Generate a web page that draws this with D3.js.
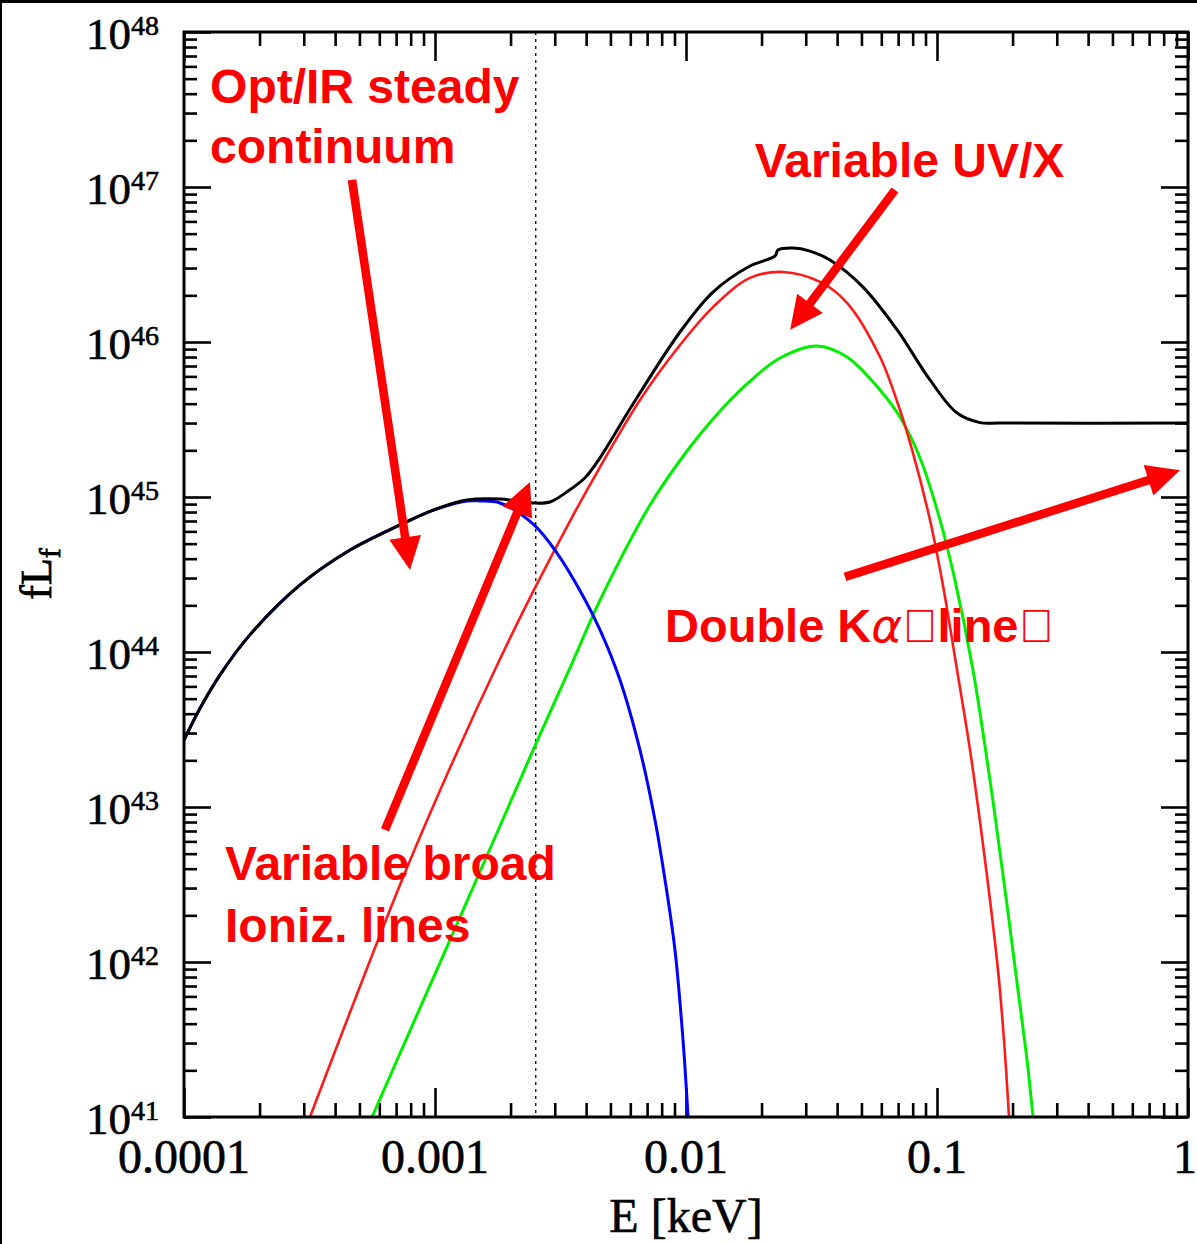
<!DOCTYPE html>
<html><head><meta charset="utf-8">
<script src="https://cdn.jsdelivr.net/npm/d3@7/dist/d3.min.js"></script>
<style>html,body{margin:0;padding:0;background:#fff;} svg{display:block}</style>
</head><body>
<svg id="c" width="1197" height="1244"></svg>
<script>
// ---- axis ticks ----
const xTickValues = [1e-4, 1e-3, 1e-2, 1e-1, 1];
const xTickLabels = ["0.0001", "0.001", "0.01", "0.1", "1"];
const yTickExponents = [41, 42, 43, 44, 45, 46, 47, 48];
const xAxisTitle = "E [keV]";

// ---- series (E in keV, fL_f) ----
const totalE = [1.00e-4, 1.16e-4, 1.39e-4, 1.83e-4, 2.90e-4, 4.59e-4, 7.25e-4, 9.82e-4, 1.341e-3, 1.815e-3, 2.457e-3, 2.872e-3, 3.357e-3, 3.959e-3, 4.544e-3, 6.149e-3, 9.465e-3, 1.281e-2, 1.799e-2, 2.263e-2, 2.325e-2, 2.669e-2, 3.119e-2, 3.748e-2, 5.074e-2, 6.929e-2, 9.378e-2, 0.1202, 0.1484, 0.1782, 1.0];
const totalL = [2.70e43, 4.35e43, 7.1e43, 1.29e44, 2.71e44, 4.55e44, 6.60e44, 8.24e44, 9.57e44, 9.71e44, 9.15e44, 9.29e44, 1.08e45, 1.33e45, 1.79e45, 3.98e45, 1.16e46, 2.10e46, 3.09e46, 3.59e46, 3.92e46, 4.04e46, 3.86e46, 3.38e46, 2.26e46, 1.20e46, 5.69e45, 3.48e45, 3.02e45, 3.0e45, 3.0e45];

const diskE = [1.00e-4, 1.16e-4, 1.39e-4, 1.83e-4, 2.90e-4, 4.59e-4, 7.25e-4, 9.82e-4, 1.341e-3, 1.511e-3, 1.815e-3, 2.457e-3, 3.062e-3, 3.887e-3, 4.544e-3, 5.458e-3, 6.557e-3, 7.524e-3, 8.25e-3, 9.04e-3, 9.73e-3, 1.019e-2];
const diskL = [2.70e43, 4.35e43, 7.1e43, 1.29e44, 2.71e44, 4.55e44, 6.60e44, 8.20e44, 9.42e44, 9.42e44, 9.15e44, 6.70e44, 4.35e44, 2.30e44, 1.39e44, 6.60e43, 2.33e43, 8.24e42, 3.38e42, 1.19e42, 3.14e41, 1.0e41];

const uvE = [3.177e-4, 7.25e-4, 1.148e-3, 1.815e-3, 2.502e-3, 3.45e-3, 4.544e-3, 6.557e-3, 9.465e-3, 1.281e-2, 1.799e-2, 2.435e-2, 3.419e-2, 4.379e-2, 5.93e-2, 7.12e-2, 8.025e-2, 9.378e-2, 0.1047, 0.1202, 0.1354, 0.1553, 0.175, 0.1849, 0.1936];
const uvL = [1.0e41, 3.14e42, 1.79e43, 9.01e43, 2.59e44, 7.00e44, 1.56e45, 4.23e45, 9.56e45, 1.68e46, 2.59e46, 2.83e46, 2.44e46, 1.79e46, 8.0e45, 3.64e45, 1.92e45, 7.11e44, 2.91e44, 7.65e43, 2.33e43, 4.55e42, 8.88e41, 3.14e41, 1.0e41];

const softE = [5.61e-4, 1.148e-3, 1.815e-3, 2.502e-3, 3.45e-3, 4.544e-3, 7.19e-3, 1.009e-2, 1.281e-2, 1.75e-2, 2.369e-2, 3.326e-2, 4.379e-2, 5.93e-2, 7.12e-2, 8.55e-2, 0.1028, 0.1179, 0.1391, 0.1626, 0.1866, 0.2102, 0.2284, 0.2413];
const softL = [1.0e41, 1.39e42, 7.54e42, 2.48e43, 7.89e43, 2.16e44, 8.88e44, 1.98e45, 3.19e45, 5.36e45, 7.88e45, 9.42e45, 8.0e45, 4.90e45, 3.28e45, 1.79e45, 7.11e44, 2.91e44, 7.65e43, 1.49e43, 2.92e42, 6.6e41, 2.33e41, 1.0e41];

const dashedE = 2.52e-3;

// ---- annotations (data coords) ----
const labelTexts = ["Opt/IR steady", "continuum", "Variable UV/X", "Variable broad", "Ioniz. lines"];
const labelE = [1.27e-4, 1.27e-4, 1.88e-2, 1.457e-4, 1.457e-4];
const labelL = [3.48e47, 1.43e47, 1.16e47, 3.38e42, 1.35e42];
const kaLabel = {E: 8.25e-3, L: 1.16e44};
const arrowTailE = [4.67e-4, 6.32e-4, 6.80e-2, 4.30e-2];
const arrowTailL = [1.11e47, 7.11e42, 9.57e46, 3.05e44];
const arrowTipE = [7.95e-4, 2.39e-3, 2.60e-2, 0.929];
const arrowTipL = [3.38e44, 1.25e45, 1.20e46, 1.49e45];

// ---- layout ----
const svg = d3.select("#c");
const L0 = 184, R0 = 1188, T0 = 32, B0 = 1117;
const x = d3.scaleLog().domain([1e-4, 1]).range([L0, R0]);
const y = d3.scaleLog().domain([1e41, 1e48]).range([B0, T0]);

svg.append("rect").attr("width", 1197).attr("height", 1244).attr("fill", "#fff");
svg.append("rect").attr("x", 0).attr("y", 0).attr("width", 1197).attr("height", 3).attr("fill", "#000");
svg.append("rect").attr("x", 0).attr("y", 0).attr("width", 2).attr("height", 1244).attr("fill", "#000");

svg.append("clipPath").attr("id", "clip").append("rect")
  .attr("x", L0).attr("y", T0).attr("width", R0 - L0).attr("height", B0 - T0);

// minor tick positions
const xMinor = [], yMinor = [];
for (let k = -4; k < 0; k++) for (let m = 2; m <= 9; m++) xMinor.push(m * Math.pow(10, k));
for (let k = 41; k < 48; k++) for (let m = 2; m <= 9; m++) yMinor.push(m * Math.pow(10, k));
const yMajor = yTickExponents.map(e => Math.pow(10, e));

function addAxis(axis, tx, ty) {
  const g = svg.append("g").attr("transform", `translate(${tx},${ty})`).call(axis);
  g.select(".domain").remove();
  g.selectAll("text").remove();
  g.selectAll("line").attr("stroke", "#000").attr("stroke-width", 2.6);
}
addAxis(d3.axisBottom(x).tickValues(xMinor).tickSize(-14), 0, B0);
addAxis(d3.axisBottom(x).tickValues(xTickValues).tickSize(-29), 0, B0);
addAxis(d3.axisTop(x).tickValues(xMinor).tickSize(-14), 0, T0);
addAxis(d3.axisTop(x).tickValues(xTickValues).tickSize(-29), 0, T0);
addAxis(d3.axisLeft(y).tickValues(yMinor).tickSize(-13), L0, 0);
addAxis(d3.axisLeft(y).tickValues(yMajor).tickSize(-27), L0, 0);
addAxis(d3.axisRight(y).tickValues(yMinor).tickSize(-13), R0, 0);
addAxis(d3.axisRight(y).tickValues(yMajor).tickSize(-27), R0, 0);

// dashed line
svg.append("line").attr("x1", x(dashedE)).attr("x2", x(dashedE))
  .attr("y1", T0).attr("y2", B0).attr("stroke", "#000").attr("stroke-width", 1.3)
  .attr("stroke-dasharray", "3,4");

// curves
const line = d3.line().x(d => x(d[0])).y(d => y(d[1])).curve(d3.curveCatmullRom.alpha(0.5));
const zipS = (a, b) => a.map((v, i) => [v, b[i]]);
const plot = svg.append("g").attr("clip-path", "url(#clip)");
plot.append("path").datum(zipS(softE, softL)).attr("d", line).attr("fill", "none").attr("stroke", "#00ee00").attr("stroke-width", 3);
plot.append("path").datum(zipS(uvE, uvL)).attr("d", line).attr("fill", "none").attr("stroke", "#ff1a1a").attr("stroke-width", 2.6);
plot.append("path").datum(zipS(diskE, diskL)).attr("d", line).attr("fill", "none").attr("stroke", "#0000ff").attr("stroke-width", 3);
plot.append("path").datum(zipS(totalE, totalL)).attr("d", line).attr("fill", "none").attr("stroke", "#000").attr("stroke-width", 3);

// frame
svg.append("rect").attr("x", L0).attr("y", T0).attr("width", R0 - L0).attr("height", B0 - T0)
  .attr("fill", "none").attr("stroke", "#000").attr("stroke-width", 3);

// tick labels
const serif = "'Liberation Serif', 'DejaVu Serif', serif";
xTickValues.forEach((v, i) => {
  const last = i === xTickValues.length - 1;
  svg.append("text").attr("x", last ? 1197 : x(v)).attr("y", 1173)
    .attr("text-anchor", last ? "end" : "middle")
    .attr("font-family", serif).attr("font-size", 48).attr("fill", "#000")
    .attr("stroke", "#000").attr("stroke-width", 0.6).text(xTickLabels[i]);
});
yTickExponents.forEach(e => {
  const t = svg.append("text").attr("x", 159).attr("y", y(Math.pow(10, e)) + 16.5)
    .attr("text-anchor", "end").attr("font-family", serif).attr("fill", "#000")
    .attr("stroke", "#000").attr("stroke-width", 0.6);
  t.append("tspan").attr("font-size", 45).text("10");
  t.append("tspan").attr("font-size", 28).attr("dy", -14).text(String(e));
});

// axis titles
svg.append("text").attr("x", 686).attr("y", 1232).attr("text-anchor", "middle")
  .attr("font-family", serif).attr("font-size", 48).attr("fill", "#000")
  .attr("stroke", "#000").attr("stroke-width", 0.6).text(xAxisTitle);
const yt = svg.append("text").attr("transform", "translate(51,574) rotate(-90)")
  .attr("text-anchor", "middle").attr("font-family", serif).attr("font-size", 44).attr("fill", "#000")
  .attr("stroke", "#000").attr("stroke-width", 0.8);
yt.append("tspan").text("fL");
yt.append("tspan").attr("font-size", 30).attr("dy", 9).text("f");

// annotations
const sans = "'Liberation Sans', Arial, sans-serif";
const red = "#ff0000";
labelTexts.forEach((s, i) => {
  svg.append("text").attr("x", x(labelE[i])).attr("y", y(labelL[i]))
    .attr("font-family", sans).attr("font-weight", "bold").attr("font-size", 48)
    .attr("fill", red).text(s);
});
const ka = svg.append("text").attr("x", x(kaLabel.E)).attr("y", y(kaLabel.L))
  .attr("font-family", sans).attr("font-weight", "bold").attr("font-size", 47).attr("fill", red);
ka.append("tspan").text("Double K");
ka.append("tspan").attr("font-family", "'DejaVu Sans', sans-serif").attr("font-style", "italic").attr("font-weight", "normal").text("α");
ka.append("tspan").text("\uE000line\uE000");

function arrow(x1, y1, x2, y2) {
  const dx = x2 - x1, dy = y2 - y1, len = Math.hypot(dx, dy);
  const ux = dx / len, uy = dy / len, px = -uy, py = ux;
  const hl = 33, hw = 16, sw = 4.3;
  const bx = x2 - ux * hl, by = y2 - uy * hl;
  const pts = [
    [x1 + px * sw, y1 + py * sw], [bx + px * sw, by + py * sw], [bx + px * hw, by + py * hw],
    [x2, y2], [bx - px * hw, by - py * hw], [bx - px * sw, by - py * sw], [x1 - px * sw, y1 - py * sw]
  ];
  svg.append("polygon").attr("points", pts.map(p => p.join(",")).join(" ")).attr("fill", red);
}
arrowTailE.forEach((e, i) => arrow(x(e), y(arrowTailL[i]), x(arrowTipE[i]), y(arrowTipL[i])));
</script>
</body></html>
